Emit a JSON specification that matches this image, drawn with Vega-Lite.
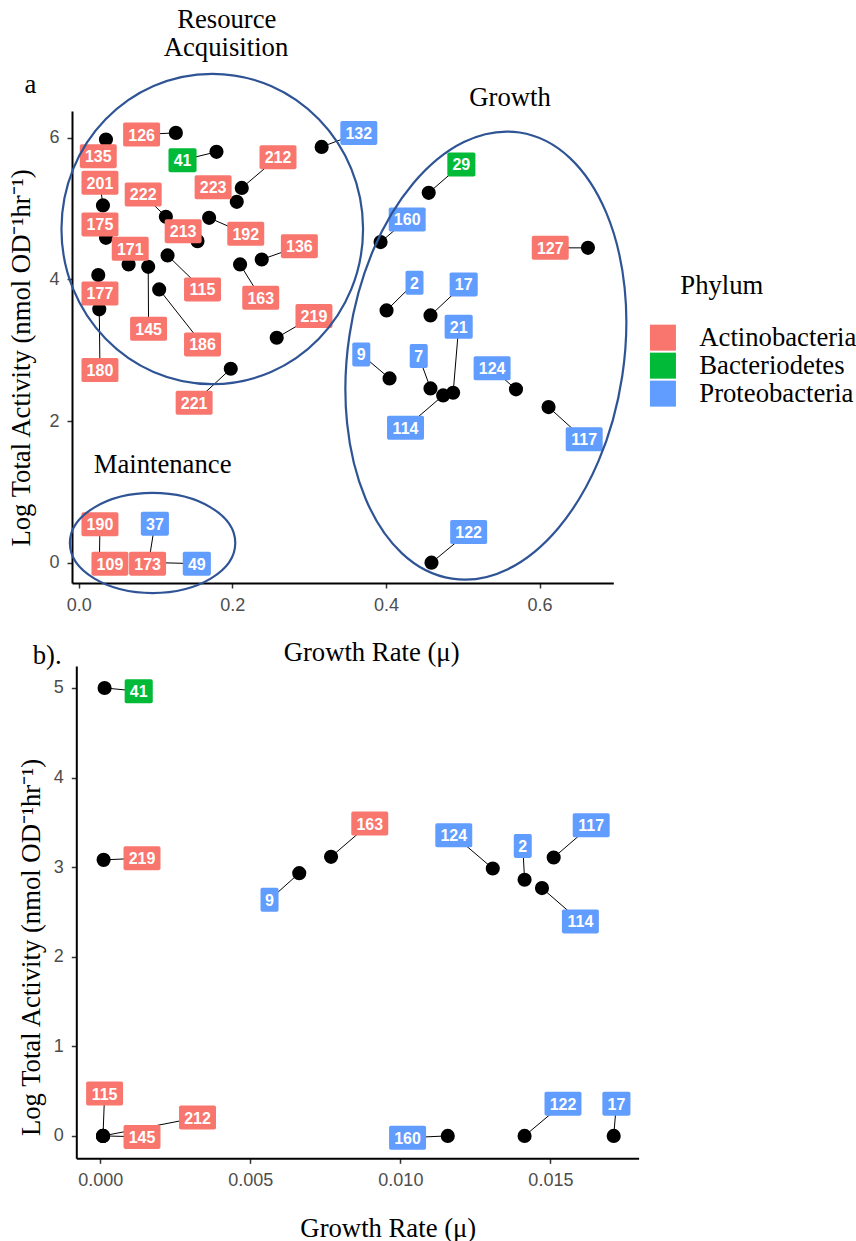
{
  "$schema": "https://vega.github.io/schema/vega-lite/v6.json",
  "background": "white",
  "padding": {"left": 8, "top": 6, "right": 0, "bottom": 0},
  "bounds": "flush",
  "spacing": 83,
  "datasets": {
    "top": [
      {"id": "126", "phylum": "Actinobacteria", "x": 0.1265, "y": 6.071, "lx": 0.0819, "ly": 6.048},
      {"id": "135", "phylum": "Actinobacteria", "x": 0.0355, "y": 5.978, "lx": 0.0255, "ly": 5.742},
      {"id": "41", "phylum": "Bacteriodetes", "x": 0.1794, "y": 5.803, "lx": 0.1352, "ly": 5.686},
      {"id": "132", "phylum": "Proteobacteria", "x": 0.3163, "y": 5.873, "lx": 0.3647, "ly": 6.071},
      {"id": "212", "phylum": "Actinobacteria", "x": 0.2123, "y": 5.294, "lx": 0.2595, "ly": 5.728},
      {"id": "223", "phylum": "Actinobacteria", "x": 0.2058, "y": 5.097, "lx": 0.175, "ly": 5.304},
      {"id": "201", "phylum": "Actinobacteria", "x": 0.0316, "y": 5.046, "lx": 0.0277, "ly": 5.365},
      {"id": "175", "phylum": "Actinobacteria", "x": 0.0355, "y": 4.588, "lx": 0.0277, "ly": 4.778},
      {"id": "222", "phylum": "Actinobacteria", "x": 0.1135, "y": 4.885, "lx": 0.084, "ly": 5.201},
      {"id": "213", "phylum": "Actinobacteria", "x": 0.1547, "y": 4.542, "lx": 0.136, "ly": 4.683},
      {"id": "192", "phylum": "Actinobacteria", "x": 0.1698, "y": 4.871, "lx": 0.2175, "ly": 4.645},
      {"id": "171", "phylum": "Actinobacteria", "x": 0.065, "y": 4.213, "lx": 0.0671, "ly": 4.433},
      {"id": "145", "phylum": "Actinobacteria", "x": 0.0905, "y": 4.179, "lx": 0.091, "ly": 3.304},
      {"id": "115", "phylum": "Actinobacteria", "x": 0.1157, "y": 4.34, "lx": 0.1612, "ly": 3.86},
      {"id": "186", "phylum": "Actinobacteria", "x": 0.1048, "y": 3.86, "lx": 0.1612, "ly": 3.083},
      {"id": "163", "phylum": "Actinobacteria", "x": 0.2101, "y": 4.213, "lx": 0.237, "ly": 3.741},
      {"id": "136", "phylum": "Actinobacteria", "x": 0.2383, "y": 4.283, "lx": 0.2873, "ly": 4.471},
      {"id": "219", "phylum": "Actinobacteria", "x": 0.2578, "y": 3.177, "lx": 0.3063, "ly": 3.483},
      {"id": "221", "phylum": "Actinobacteria", "x": 0.198, "y": 2.739, "lx": 0.1503, "ly": 2.259},
      {"id": "177", "phylum": "Actinobacteria", "x": 0.0255, "y": 4.062, "lx": 0.0277, "ly": 3.803},
      {"id": "180", "phylum": "Actinobacteria", "x": 0.0268, "y": 3.578, "lx": 0.0277, "ly": 2.721},
      {"id": "29", "phylum": "Bacteriodetes", "x": 0.4557, "y": 5.224, "lx": 0.4982, "ly": 5.625},
      {"id": "160", "phylum": "Proteobacteria", "x": 0.393, "y": 4.528, "lx": 0.4277, "ly": 4.848},
      {"id": "127", "phylum": "Actinobacteria", "x": 0.663, "y": 4.447, "lx": 0.6139, "ly": 4.447},
      {"id": "2", "phylum": "Proteobacteria", "x": 0.4008, "y": 3.563, "lx": 0.4372, "ly": 3.953},
      {"id": "17", "phylum": "Proteobacteria", "x": 0.458, "y": 3.493, "lx": 0.5012, "ly": 3.931},
      {"id": "21", "phylum": "Proteobacteria", "x": 0.4875, "y": 2.4, "lx": 0.4947, "ly": 3.332},
      {"id": "9", "phylum": "Proteobacteria", "x": 0.4047, "y": 2.603, "lx": 0.3679, "ly": 2.942},
      {"id": "7", "phylum": "Proteobacteria", "x": 0.458, "y": 2.462, "lx": 0.4427, "ly": 2.918},
      {"id": "124", "phylum": "Proteobacteria", "x": 0.5693, "y": 2.448, "lx": 0.5382, "ly": 2.745},
      {"id": "114", "phylum": "Proteobacteria", "x": 0.4745, "y": 2.363, "lx": 0.4255, "ly": 1.906},
      {"id": "117", "phylum": "Proteobacteria", "x": 0.6117, "y": 2.198, "lx": 0.6581, "ly": 1.742},
      {"id": "122", "phylum": "Proteobacteria", "x": 0.4593, "y": 0, "lx": 0.5077, "ly": 0.433},
      {"id": "190", "phylum": "Actinobacteria", "x": 0.027, "y": 0.05, "lx": 0.0277, "ly": 0.542},
      {"id": "109", "phylum": "Actinobacteria", "x": 0.03, "y": 0, "lx": 0.0407, "ly": -0.014},
      {"id": "173", "phylum": "Actinobacteria", "x": 0.09, "y": 0, "lx": 0.0897, "ly": -0.014},
      {"id": "37", "phylum": "Proteobacteria", "x": 0.0914, "y": 0.02, "lx": 0.0992, "ly": 0.551},
      {"id": "49", "phylum": "Proteobacteria", "x": 0.104, "y": 0, "lx": 0.1538, "ly": -0.014}
    ],
    "bottom": [
      {"id": "41", "phylum": "Bacteriodetes", "x": 0.000143, "y": 5.0, "lx": 0.00128, "ly": 4.963},
      {"id": "219", "phylum": "Actinobacteria", "x": 0.00011, "y": 3.081, "lx": 0.00139, "ly": 3.1},
      {"id": "9", "phylum": "Proteobacteria", "x": 0.00663, "y": 2.933, "lx": 0.00564, "ly": 2.636},
      {"id": "163", "phylum": "Actinobacteria", "x": 0.00769, "y": 3.115, "lx": 0.00898, "ly": 3.486},
      {"id": "124", "phylum": "Proteobacteria", "x": 0.01308, "y": 2.985, "lx": 0.01178, "ly": 3.356},
      {"id": "2", "phylum": "Proteobacteria", "x": 0.01414, "y": 2.859, "lx": 0.01408, "ly": 3.237},
      {"id": "114", "phylum": "Proteobacteria", "x": 0.01472, "y": 2.766, "lx": 0.016, "ly": 2.394},
      {"id": "117", "phylum": "Proteobacteria", "x": 0.01511, "y": 3.107, "lx": 0.01636, "ly": 3.468},
      {"id": "115", "phylum": "Actinobacteria", "x": 0.00009, "y": 0, "lx": 0.000143, "ly": 0.472},
      {"id": "212", "phylum": "Actinobacteria", "x": 0.00009, "y": 0, "lx": 0.00324, "ly": 0.205},
      {"id": "145", "phylum": "Actinobacteria", "x": 0.00009, "y": 0, "lx": 0.00139, "ly": -0.011},
      {"id": "160", "phylum": "Proteobacteria", "x": 0.01158, "y": 0, "lx": 0.01024, "ly": -0.02},
      {"id": "122", "phylum": "Proteobacteria", "x": 0.01414, "y": 0, "lx": 0.01542, "ly": 0.36},
      {"id": "17", "phylum": "Proteobacteria", "x": 0.01711, "y": 0, "lx": 0.0172, "ly": 0.36}
    ],
    "notes": [
      {"text": "Resource", "x": 0.1928, "y": 7.553},
      {"text": "Acquisition", "x": 0.1918, "y": 7.154},
      {"text": "a", "x": -0.0629, "y": 6.636},
      {"text": "Growth", "x": 0.5615, "y": 6.448},
      {"text": "Maintenance", "x": 0.1092, "y": 1.271},
      {"text": "b).", "x": -0.041, "y": -1.426}
    ]
  },
  "vconcat": [
    {
      "width": 541.3,
      "height": 472,
      "layer": [
        {
          "data": {"name": "top"},
          "mark": {"type": "rule", "color": "#000000", "strokeWidth": 1},
          "encoding": {
            "x": {"field": "x", "type": "quantitative", "title": "Growth Rate (μ)",
              "scale": {"domain": [-0.0087, 0.696], "nice": false, "zero": false},
              "axis": {"values": [0, 0.2, 0.4, 0.6], "format": ".1f", "titleX": 299.1, "titleY": 77, "titleBaseline": "alphabetic", "labelFlush": false}},
            "y": {"field": "y", "type": "quantitative", "title": "Log Total Activity (nmol OD⁻¹hr⁻¹)",
              "scale": {"domain": [-0.287, 6.38], "nice": false, "zero": false},
              "axis": {"values": [0, 2, 4, 6], "format": "d", "titleX": -42.3, "titleY": 246.5, "titleBaseline": "alphabetic", "titleAngle": -90, "labelFlush": false}},
            "x2": {"field": "lx"},
            "y2": {"field": "ly"}
          }
        },
        {
          "data": {"name": "top"},
          "mark": {"type": "point", "filled": true, "color": "#000000", "size": 200, "opacity": 1},
          "encoding": {
            "x": {"field": "x", "type": "quantitative", "title": "Growth Rate (μ)"},
            "y": {"field": "y", "type": "quantitative", "title": "Log Total Activity (nmol OD⁻¹hr⁻¹)"}
          }
        },
        {
          "data": {"name": "top"},
          "mark": {"type": "point", "filled": true, "size": 576, "opacity": 1, "strokeWidth": 0},
          "encoding": {
            "x": {"field": "lx", "type": "quantitative", "title": "Growth Rate (μ)"},
            "y": {"field": "ly", "type": "quantitative", "title": "Log Total Activity (nmol OD⁻¹hr⁻¹)"},
            "color": {"field": "phylum", "type": "nominal", "title": "Phylum",
              "scale": {"domain": ["Actinobacteria", "Bacteriodetes", "Proteobacteria"], "range": ["#F8766D", "#00BA38", "#619CFF"]},
              "legend": {"orient": "none", "legendX": 608.3, "legendY": 162.3, "symbolType": "square"}},
            "shape": {
              "condition": [
                {"test": "length(datum.id) == 1", "value": "M-0.6,-1L0.6,-1Q0.75,-1,0.75,-0.85L0.75,0.85Q0.75,1,0.6,1L-0.6,1Q-0.75,1,-0.75,0.85L-0.75,-0.85Q-0.75,-1,-0.6,-1Z"},
                {"test": "length(datum.id) == 2", "value": "M-1.02,-1L1.02,-1Q1.17,-1,1.17,-0.85L1.17,0.85Q1.17,1,1.02,1L-1.02,1Q-1.17,1,-1.17,0.85L-1.17,-0.85Q-1.17,-1,-1.02,-1Z"}
              ],
              "value": "M-1.39,-1L1.39,-1Q1.54,-1,1.54,-0.85L1.54,0.85Q1.54,1,1.39,1L-1.39,1Q-1.54,1,-1.54,0.85L-1.54,-0.85Q-1.54,-1,-1.39,-1Z"
            }
          }
        },
        {
          "data": {"name": "top"},
          "mark": {"type": "text", "font": "Liberation Sans", "fontWeight": "bold", "fontSize": 16, "color": "#FFFFFF", "align": "center", "baseline": "middle", "dy": 1},
          "encoding": {
            "x": {"field": "lx", "type": "quantitative", "title": "Growth Rate (μ)"},
            "y": {"field": "ly", "type": "quantitative", "title": "Log Total Activity (nmol OD⁻¹hr⁻¹)"},
            "text": {"field": "id", "type": "nominal"}
          }
        },
        {
          "data": {"name": "notes"},
          "mark": {"type": "text", "font": "Liberation Serif", "fontSize": 26.7, "color": "#000000", "align": "center", "baseline": "alphabetic"},
          "encoding": {
            "x": {"field": "x", "type": "quantitative", "title": "Growth Rate (μ)"},
            "y": {"field": "y", "type": "quantitative", "title": "Log Total Activity (nmol OD⁻¹hr⁻¹)"},
            "text": {"field": "text", "type": "nominal"}
          }
        },
        {
          "data": {"values": [{"x": 0.1739, "y": 4.713}]},
          "mark": {"type": "point", "filled": false, "color": "#2F5496", "strokeWidth": 2.2, "opacity": 1, "size": 90964,
            "shape": "M1,0C1,0.5683,0.5523,1.029,0,1.029C-0.5523,1.029,-1,0.5683,-1,0C-1,-0.5683,-0.5523,-1.029,0,-1.029C0.5523,-1.029,1,-0.5683,1,0Z"},
          "encoding": {
            "x": {"field": "x", "type": "quantitative", "title": "Growth Rate (μ)"},
            "y": {"field": "y", "type": "quantitative", "title": "Log Total Activity (nmol OD⁻¹hr⁻¹)"}
          }
        },
        {
          "data": {"values": [{"x": 0.5301, "y": 2.925}]},
          "mark": {"type": "point", "filled": false, "color": "#2F5496", "strokeWidth": 2.2, "opacity": 1, "size": 76066, "angle": 8.6,
            "shape": "M1,0C1,0.9036,0.5523,1.636,0,1.636C-0.5523,1.636,-1,0.9036,-1,0C-1,-0.9036,-0.5523,-1.636,0,-1.636C0.5523,-1.636,1,-0.9036,1,0Z"},
          "encoding": {
            "x": {"field": "x", "type": "quantitative", "title": "Growth Rate (μ)"},
            "y": {"field": "y", "type": "quantitative", "title": "Log Total Activity (nmol OD⁻¹hr⁻¹)"}
          }
        },
        {
          "data": {"values": [{"x": 0.0962, "y": 0.278}]},
          "mark": {"type": "point", "filled": false, "color": "#2F5496", "strokeWidth": 2.2, "opacity": 1, "size": 27357,
            "shape": "M1,0C1,0.3341,0.5523,0.605,0,0.605C-0.5523,0.605,-1,0.3341,-1,0C-1,-0.3341,-0.5523,-0.605,0,-0.605C0.5523,-0.605,1,-0.3341,1,0Z"},
          "encoding": {
            "x": {"field": "x", "type": "quantitative", "title": "Growth Rate (μ)"},
            "y": {"field": "y", "type": "quantitative", "title": "Log Total Activity (nmol OD⁻¹hr⁻¹)"}
          }
        }
      ]
    },
    {
      "width": 566.6,
      "height": 492.3,
      "layer": [
        {
          "data": {"name": "bottom"},
          "mark": {"type": "rule", "color": "#000000", "strokeWidth": 1},
          "encoding": {
            "x": {"field": "x", "type": "quantitative", "title": "Growth Rate (μ)",
              "scale": {"domain": [-0.0008, 0.01794], "nice": false, "zero": false, "range": [4.3, 566.6]},
              "axis": {"values": [0, 0.005, 0.01, 0.015], "format": ".3f", "titleX": 315.8, "titleY": 77.7, "titleBaseline": "alphabetic", "labelFlush": false}},
            "y": {"field": "y", "type": "quantitative", "title": "Log Total Activity (nmol OD⁻¹hr⁻¹)",
              "scale": {"domain": [-0.25, 5.245], "nice": false, "zero": false},
              "axis": {"values": [0, 1, 2, 3, 4, 5], "format": "d", "offset": -4.3, "titleX": -36.6, "titleY": 281, "titleBaseline": "alphabetic", "titleAngle": -90, "labelFlush": false}},
            "x2": {"field": "lx"},
            "y2": {"field": "ly"}
          }
        },
        {
          "data": {"name": "bottom"},
          "mark": {"type": "point", "filled": true, "color": "#000000", "size": 200, "opacity": 1},
          "encoding": {
            "x": {"field": "x", "type": "quantitative", "title": "Growth Rate (μ)"},
            "y": {"field": "y", "type": "quantitative", "title": "Log Total Activity (nmol OD⁻¹hr⁻¹)"}
          }
        },
        {
          "data": {"name": "bottom"},
          "mark": {"type": "point", "filled": true, "size": 576, "opacity": 1, "strokeWidth": 0},
          "encoding": {
            "x": {"field": "lx", "type": "quantitative", "title": "Growth Rate (μ)"},
            "y": {"field": "ly", "type": "quantitative", "title": "Log Total Activity (nmol OD⁻¹hr⁻¹)"},
            "color": {"field": "phylum", "type": "nominal", "title": "Phylum",
              "scale": {"domain": ["Actinobacteria", "Bacteriodetes", "Proteobacteria"], "range": ["#F8766D", "#00BA38", "#619CFF"]},
              "legend": {"orient": "none", "legendX": 608.3, "legendY": 162.3, "symbolType": "square"}},
            "shape": {
              "condition": [
                {"test": "length(datum.id) == 1", "value": "M-0.6,-1L0.6,-1Q0.75,-1,0.75,-0.85L0.75,0.85Q0.75,1,0.6,1L-0.6,1Q-0.75,1,-0.75,0.85L-0.75,-0.85Q-0.75,-1,-0.6,-1Z"},
                {"test": "length(datum.id) == 2", "value": "M-1.02,-1L1.02,-1Q1.17,-1,1.17,-0.85L1.17,0.85Q1.17,1,1.02,1L-1.02,1Q-1.17,1,-1.17,0.85L-1.17,-0.85Q-1.17,-1,-1.02,-1Z"}
              ],
              "value": "M-1.39,-1L1.39,-1Q1.54,-1,1.54,-0.85L1.54,0.85Q1.54,1,1.39,1L-1.39,1Q-1.54,1,-1.54,0.85L-1.54,-0.85Q-1.54,-1,-1.39,-1Z"
            }
          }
        },
        {
          "data": {"name": "bottom"},
          "mark": {"type": "text", "font": "Liberation Sans", "fontWeight": "bold", "fontSize": 16, "color": "#FFFFFF", "align": "center", "baseline": "middle", "dy": 1},
          "encoding": {
            "x": {"field": "lx", "type": "quantitative", "title": "Growth Rate (μ)"},
            "y": {"field": "ly", "type": "quantitative", "title": "Log Total Activity (nmol OD⁻¹hr⁻¹)"},
            "text": {"field": "id", "type": "nominal"}
          }
        }
      ]
    }
  ],
  "config": {
    "view": {"stroke": null},
    "axis": {
      "grid": false,
      "domainColor": "#000000",
      "domainWidth": 2,
      "tickColor": "#333333",
      "tickWidth": 1.5,
      "tickSize": 5,
      "labelFont": "Liberation Sans",
      "labelFontSize": 18,
      "labelColor": "#4D4D4D",
      "labelPadding": 8,
      "titleFont": "Liberation Serif",
      "titleFontSize": 26.7,
      "titleFontWeight": "normal",
      "titleColor": "#000000"
    },
    "legend": {
      "padding": 0,
      "titleFont": "Liberation Serif",
      "titleFontSize": 26.7,
      "titleFontWeight": "normal",
      "titleColor": "#000000",
      "titlePadding": 24.3,
      "titleAnchor": "start",
      "labelFont": "Liberation Serif",
      "labelFontSize": 26.7,
      "labelColor": "#000000",
      "labelOffset": 23,
      "labelLimit": 400,
      "symbolOffset": -30.7,
      "symbolType": "square",
      "symbolSize": 676,
      "symbolStrokeWidth": 0,
      "rowPadding": 0
    }
  }
}
